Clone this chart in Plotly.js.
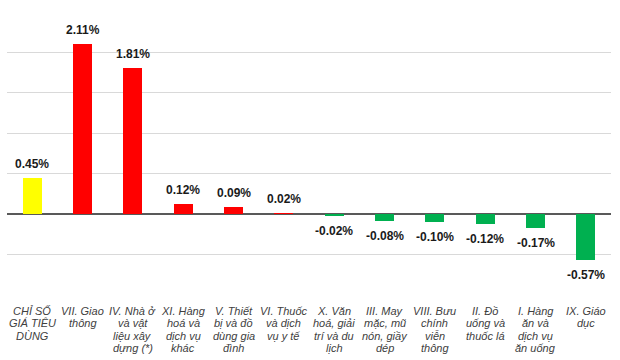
<!DOCTYPE html>
<html>
<head>
<meta charset="utf-8">
<script src="https://cdn.plot.ly/plotly-3.0.1.min.js"></script>
<style>html,body{margin:0;padding:0;background:#fff;}#chart{width:620px;height:360px;}</style>
</head>
<body>
<div id="chart"></div>
<script>
const categories = [
  "CHỈ SỐ<br>GIÁ TIÊU<br>DÙNG",
  "VII. Giao<br>thông",
  "IV. Nhà ở<br>và vật<br>liệu xây<br>dựng (*)",
  "XI. Hàng<br>hoá và<br>dịch vụ<br>khác",
  "V. Thiết<br>bị và đồ<br>dùng gia<br>đình",
  "VI. Thuốc<br>và dịch<br>vụ y tế",
  "X. Văn<br>hoá, giải<br>trí và du<br>lịch",
  "III. May<br>mặc, mũ<br>nón, giầy<br>dép",
  "VIII. Bưu<br>chính<br>viễn<br>thông",
  "II. Đồ<br>uống và<br>thuốc lá",
  "I. Hàng<br>ăn và<br>dịch vụ<br>ăn uống",
  "IX. Giáo<br>dục"
];
const values = [0.45, 2.11, 1.81, 0.12, 0.09, 0.02, -0.02, -0.08, -0.10, -0.12, -0.17, -0.57];
const valueLabels = ["0.45%", "2.11%", "1.81%", "0.12%", "0.09%", "0.02%", "-0.02%", "-0.08%", "-0.10%", "-0.12%", "-0.17%", "-0.57%"];

const colorIndex = "#FFFF00", colorUp = "#FF0000", colorDown = "#00B050";
const colors = values.map((v, i) => i === 0 ? colorIndex : (v >= 0 ? colorUp : colorDown));

const ids = categories.map((c, i) => i);

const trace = {
  type: "bar",
  x: ids,
  y: values,
  marker: { color: colors, line: { width: 0 } },
  width: 0.377,
  hoverinfo: "skip"
};

const annotations = values.map((v, i) => ({
  x: ids[i], y: v, xref: "x", yref: "y",
  text: "<b>" + valueLabels[i] + "</b>",
  showarrow: false,
  yanchor: "middle",
  yshift: v >= 0 ? 14 : -15,
  font: { family: "Liberation Sans, Arial, sans-serif", size: 12, color: "#1a1a1a" }
}));

// category labels: one annotation per text line for tighter line spacing
categories.forEach((c, i) => {
  c.split("<br>").forEach((line, k) => {
    annotations.push({
      x: ids[i], y: 0, xref: "x", yref: "paper",
      text: "<i>" + line + "</i>",
      showarrow: false,
      yanchor: "middle",
      yshift: -(16 + k * 12.3),
      font: { family: "Liberation Sans, Arial, sans-serif", size: 11, color: "#404040" }
    });
  });
});

const layout = {
  width: 620, height: 360,
  margin: { l: 7, r: 9, t: 12, b: 65 },
  paper_bgcolor: "#ffffff",
  plot_bgcolor: "#ffffff",
  showlegend: false,
  bargap: 0,
  xaxis: {
    tickmode: "array",
    tickvals: ids,
    showticklabels: false,
    range: [-0.5, 11.5],
    showgrid: false,
    zeroline: false,
    showline: false,
    ticks: ""
  },
  yaxis: {
    range: [-1, 2.5],
    dtick: 0.5,
    showticklabels: false,
    showgrid: true,
    gridcolor: "#d9d9d9",
    gridwidth: 1,
    zeroline: true,
    zerolinecolor: "#595959",
    zerolinewidth: 1.5,
    showline: false,
    ticks: ""
  },
  annotations: annotations
};

Plotly.newPlot("chart", [trace], layout, { displayModeBar: false, staticPlot: true });
</script>
</body>
</html>
